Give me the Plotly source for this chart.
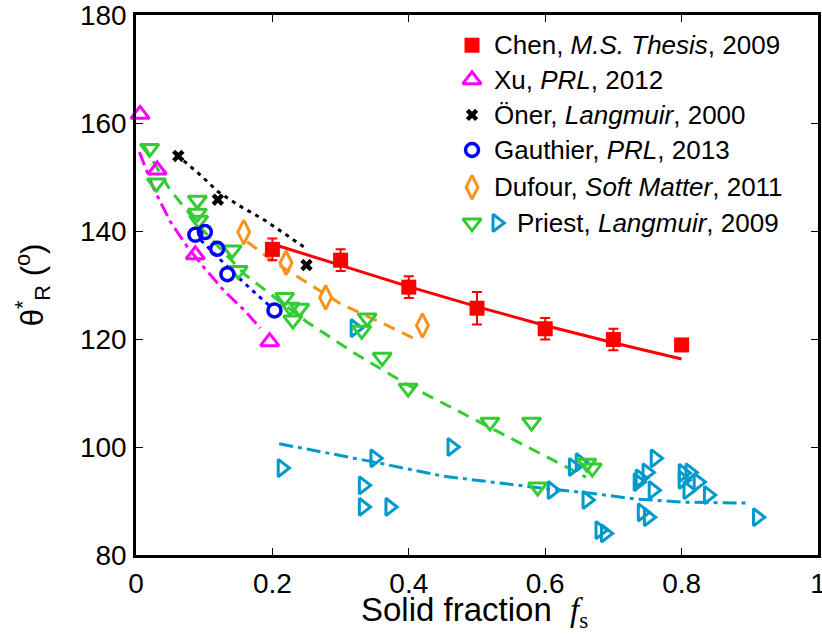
import plotly.graph_objects as go

# ---------------- data ----------------
chen_x = [0.2, 0.3, 0.4, 0.5, 0.6, 0.7, 0.8]
chen_y = [136.6, 134.6, 129.6, 125.7, 121.9, 119.9, 118.9]
chen_err = [2, 2, 2, 3, 2, 2, 0]
chen_fit_x = [0.2, 0.3, 0.4, 0.5, 0.6, 0.7, 0.8]
chen_fit_y = [137.6, 133.6, 129.7, 126.0, 122.5, 119.3, 116.3]

xu_x = [0.006, 0.031, 0.087, 0.196]
xu_y = [161.6, 151.3, 135.6, 119.5]
xu_fit_x = [0.005, 0.025, 0.05, 0.075, 0.1, 0.13, 0.16, 0.182]
xu_fit_y = [154.6, 148.1, 141.8, 137.1, 133.2, 128.8, 125.2, 122.0]

oner_x = [0.062, 0.12, 0.25]
oner_y = [153.9, 145.8, 133.7]
oner_fit_x = [0.07, 0.095, 0.12, 0.15, 0.19, 0.22, 0.248]
oner_fit_y = [153.0, 150.3, 147.3, 144.8, 141.9, 139.4, 136.9]

gau_x = [0.087, 0.101, 0.119, 0.134, 0.203]
gau_y = [139.3, 139.8, 136.7, 132.0, 125.3]
gau_fit_x = [0.095, 0.126, 0.15, 0.175, 0.198]
gau_fit_y = [138.3, 134.4, 131.4, 128.5, 125.9]

duf_x = [0.158, 0.22, 0.278, 0.42]
duf_y = [139.8, 134.1, 127.7, 122.5]
duf_fit_x = [0.163, 0.2, 0.25, 0.3, 0.36, 0.416]
duf_fit_y = [138.0, 134.5, 130.5, 126.5, 123.0, 119.6]

pr1_x = [0.02, 0.03, 0.09, 0.09, 0.092, 0.141, 0.15, 0.218, 0.226, 0.24, 0.23,
         0.339, 0.331, 0.361, 0.399, 0.519, 0.58, 0.589, 0.661, 0.669]
pr1_y = [155.3, 148.9, 145.7, 143.3, 142.0, 136.5, 132.7, 127.7, 125.9, 125.7, 123.5,
         123.9, 121.6, 116.6, 110.9, 104.6, 104.6, 92.6, 97.0, 96.1]
pr1_fit_x = [0.01, 0.05, 0.1, 0.16, 0.25, 0.32, 0.4, 0.52, 0.6, 0.66]
pr1_fit_y = [156.1, 147.6, 139.9, 131.9, 123.2, 117.4, 111.4, 103.6, 98.4, 94.4]

pr2_x = [0.214, 0.321, 0.333, 0.333, 0.35, 0.372, 0.463, 0.61, 0.641, 0.651, 0.661,
         0.68, 0.688, 0.761, 0.749, 0.739, 0.736, 0.758, 0.742, 0.751, 0.802, 0.812,
         0.802, 0.824, 0.809, 0.839, 0.911]
pr2_y = [96.1, 122.0, 92.9, 88.9, 97.9, 88.9, 100.0, 92.0, 96.3, 97.2, 90.2,
         84.6, 84.0, 97.9, 95.3, 94.2, 93.5, 92.0, 87.9, 87.0, 95.2, 95.3,
         93.9, 93.5, 92.0, 91.1, 87.0]
pr2_fit_x = [0.21, 0.3, 0.35, 0.45, 0.55, 0.6, 0.67, 0.73, 0.8, 0.9]
pr2_fit_y = [100.6, 98.4, 97.2, 94.6, 93.1, 92.3, 91.4, 90.4, 89.8, 89.6]

legend_labels = [
    "Chen, <i>M.S. Thesis</i>, 2009",
    "Xu, <i>PRL</i>, 2012",
    "Öner, <i>Langmuir</i>, 2000",
    "Gauthier, <i>PRL</i>, 2013",
    "Dufour, <i>Soft Matter</i>, 2011",
    "Priest, <i>Langmuir</i>, 2009",
]

x_ticks = [0, 0.2, 0.4, 0.6, 0.8, 1]
x_ticktext = ["0", "0.2", "0.4", "0.6", "0.8", "1"]
y_ticks = [80, 100, 120, 140, 160, 180]

# ---------------- styles ----------------
RED = "#ff0000"
MAG = "#ff00ff"
BLK = "#000000"
BLU = "#0000ff"
ORA = "#f7931e"
GRN = "#33cc33"
CYA = "#0099cc"
FONT = "Liberation Sans"

fig = go.Figure()

def line(x, y, color, dash):
    fig.add_trace(go.Scatter(x=x, y=y, mode="lines", showlegend=False,
                             line=dict(color=color, width=3, dash=dash),
                             hoverinfo="skip"))

def pts(x, y, color, symbol, size, lw=3):
    fig.add_trace(go.Scatter(x=x, y=y, mode="markers", showlegend=False, cliponaxis=False,
                             marker=dict(symbol=symbol, size=size, color=color,
                                         line=dict(color=color, width=lw))))

SZ = {"tri": 16, "tri_r": 15, "circ": 13, "dia": 17, "x": 11, "sq": 15}

# fit lines
line(pr2_fit_x, pr2_fit_y, CYA, "14px,5px,4px,5px")
line(pr1_fit_x, pr1_fit_y, GRN, "12px,8px")
line(duf_fit_x, duf_fit_y, ORA, "12px,8px")
line(gau_fit_x, gau_fit_y, BLU, "4px,5px")
line(oner_fit_x, oner_fit_y, BLK, "4px,5px")
line(xu_fit_x, xu_fit_y, MAG, "14px,5px,4px,5px")

# markers
pts(pr2_x, pr2_y, CYA, "triangle-right-open", SZ["tri_r"])
pts(pr1_x, pr1_y, GRN, "triangle-down-open", SZ["tri"])
pts(duf_x, duf_y, ORA, "diamond-tall-open", SZ["dia"])
pts(gau_x, gau_y, BLU, "circle-open", SZ["circ"], 3.5)
pts(oner_x, oner_y, BLK, "x", SZ["x"], 0)
pts(xu_x, xu_y, MAG, "triangle-up-open", SZ["tri"])

line(chen_fit_x, chen_fit_y, RED, "solid")
fig.add_trace(go.Scatter(x=chen_x, y=chen_y, mode="markers", showlegend=False, cliponaxis=False,
                         marker=dict(symbol="square", size=SZ["sq"], color=RED),
                         error_y=dict(type="data", array=chen_err, visible=True,
                                      color=RED, thickness=2, width=5)))

# ---------------- manual legend ----------------
leg_y = [0.944, 0.880, 0.815, 0.750, 0.681, 0.615]
leg_mx = 0.4927
leg_sym = ["square", "triangle-up-open", "x", "circle-open", "diamond-tall-open", "triangle-down-open"]
leg_col = [RED, MAG, BLK, BLU, ORA, GRN]
leg_size = [SZ["sq"], SZ["tri"], SZ["x"], SZ["circ"], SZ["dia"], SZ["tri"]]
leg_lw = [0, 3, 0, 3.5, 3, 3]
for s, c, sz, lw, yy in zip(leg_sym, leg_col, leg_size, leg_lw, leg_y):
    fig.add_trace(go.Scatter(x=[leg_mx], y=[yy], xaxis="x2", yaxis="y2", mode="markers",
                             showlegend=False, cliponaxis=False,
                             marker=dict(symbol=s, size=sz, color=c, line=dict(color=c, width=lw))))
fig.add_trace(go.Scatter(x=[0.529], y=[leg_y[5]], xaxis="x2", yaxis="y2", mode="markers",
                         showlegend=False, cliponaxis=False,
                         marker=dict(symbol="triangle-right-open", size=SZ["tri_r"], color=CYA,
                                     line=dict(color=CYA, width=3))))

annotations = []
for i, (lab, yy) in enumerate(zip(legend_labels, leg_y)):
    annotations.append(dict(x=0.556 if i == 5 else 0.522, y=yy, xref="paper", yref="paper",
                            text=lab, showarrow=False, xanchor="left", yanchor="middle",
                            font=dict(family=FONT, size=26, color="black")))

annotations.append(dict(x=0.497, y=-0.105, xref="paper", yref="paper",
                        text="Solid fraction  <span style='font-family:Liberation Serif'><i>f</i><sub>s</sub></span>",
                        showarrow=False, xanchor="center", yanchor="middle",
                        font=dict(family=FONT, size=33, color="black")))
annotations.append(dict(x=-0.152, y=0.5, xref="paper", yref="paper",
                        text="θ<sup>*</sup><sub>R</sub> (<sup>o</sup>)", textangle=-90,
                        showarrow=False, xanchor="center", yanchor="middle",
                        font=dict(family=FONT, size=31, color="black")))

axis_common = dict(showline=True, linecolor="black", linewidth=2.5, mirror="ticks",
                   ticks="inside", ticklen=7, tickwidth=1, tickcolor="black",
                   showgrid=False, zeroline=False, ticklabeloverflow="allow", automargin=False,
                   tickfont=dict(family=FONT, size=28, color="black"))

fig.update_layout(
    width=822, height=641,
    margin=dict(l=136, r=4, t=15, b=86, autoexpand=False),
    paper_bgcolor="white", plot_bgcolor="white",
    showlegend=False,
    xaxis=dict(range=[0, 1], tickvals=x_ticks, ticktext=x_ticktext, ticklabelstandoff=2, **axis_common),
    yaxis=dict(range=[80, 180], tickvals=y_ticks, ticklabelstandoff=1, **axis_common),
    xaxis2=dict(range=[0, 1], overlaying="x", visible=False, domain=[0, 1], anchor="y2"),
    yaxis2=dict(range=[0, 1], overlaying="y", visible=False, domain=[0, 1], anchor="x2"),
    annotations=annotations,
)

fig.write_html("out.html")
